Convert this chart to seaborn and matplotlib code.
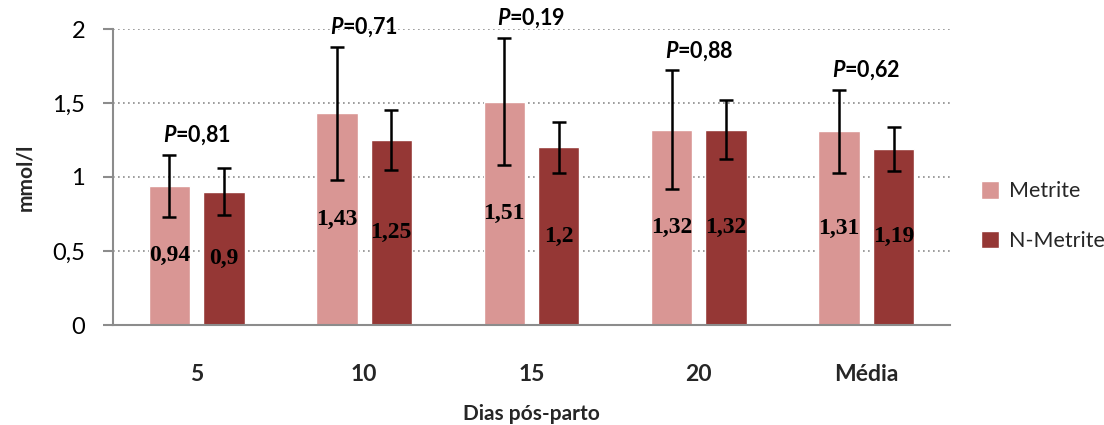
import numpy as np
import pandas as pd
import matplotlib
matplotlib.use("Agg")
import matplotlib.pyplot as plt
from matplotlib.ticker import FuncFormatter
import seaborn as sns

# ---- data ----
dias = ["5", "10", "15", "20", "Média"]
grupos = ["Metrite", "N-Metrite"]
metrite = [0.94, 1.43, 1.51, 1.32, 1.31]
n_metrite = [0.90, 1.25, 1.20, 1.32, 1.19]
err_metrite = [0.21, 0.45, 0.43, 0.40, 0.28]
err_n_metrite = [0.16, 0.20, 0.17, 0.20, 0.15]
p_values = ["0,81", "0,71", "0,19", "0,88", "0,62"]
colors = ["#D99694", "#953735"]

df = pd.DataFrame({
    "dia": dias * 2,
    "grupo": [grupos[0]] * len(dias) + [grupos[1]] * len(dias),
    "valor": metrite + n_metrite,
})

sns.set_theme(style="white")
plt.rcParams["font.family"] = ["Lato", "DejaVu Sans"]
plt.rcParams["mathtext.fontset"] = "custom"
plt.rcParams["mathtext.it"] = "Lato:italic:bold"
plt.rcParams["mathtext.rm"] = "Lato:bold"

fig = plt.figure(figsize=(11.04, 4.25), dpi=100)
ax = fig.add_axes([113 / 1104, 1 - 325 / 425, (950 - 113) / 1104, (325 - 29) / 425])

sns.barplot(data=df, x="dia", y="valor", hue="grupo", palette=colors,
            order=dias, hue_order=grupos, width=0.65, gap=0.24,
            errorbar=None, saturation=1, ax=ax, zorder=2)

val_labels = [metrite, n_metrite]
errs = [err_metrite, err_n_metrite]
for cont, errv, vals in zip(ax.containers, errs, val_labels):
    xs = [b.get_x() + b.get_width() / 2 for b in cont]
    hs = [b.get_height() for b in cont]
    ax.errorbar(xs, hs, yerr=errv, fmt="none", ecolor="black",
                elinewidth=1.8, capsize=5, capthick=1.8, zorder=4)
    ax.bar_label(cont, labels=[f"{v:g}".replace(".", ",") for v in vals],
                 label_type="center", fontfamily="Liberation Serif",
                 fontweight="bold", fontsize=17, color="black", zorder=5)

for i, p in enumerate(p_values):
    top = max(metrite[i] + err_metrite[i], n_metrite[i] + err_n_metrite[i])
    ax.text(i, top + 0.13, r"$P$=" + p, ha="center", va="center",
            fontsize=15.5, fontweight="bold", color="black")

ax.set_ylim(0, 2)
ax.set_xlim(-0.5, len(dias) - 0.5)
ax.set_yticks([0, 0.5, 1, 1.5, 2])
ax.yaxis.set_major_formatter(FuncFormatter(lambda v, _: f"{v:g}".replace(".", ",")))
ax.grid(axis="y", color="#8c8c8c", linestyle=(0, (1, 2)), linewidth=1.2, zorder=0)
ax.set_axisbelow(True)

for s in ["top", "right"]:
    ax.spines[s].set_visible(False)
for s in ["left", "bottom"]:
    ax.spines[s].set_color("#8c8c8c")
    ax.spines[s].set_linewidth(1.5)

ax.tick_params(axis="y", which="both", left=True, length=7, width=1.5,
               color="#8c8c8c", pad=13, labelsize=17, labelcolor="black")
ax.tick_params(axis="x", bottom=False, pad=22, labelsize=16.5)
for lbl in ax.get_xticklabels():
    lbl.set_fontweight("bold")

ax.set_xlabel("Dias pós-parto", fontsize=15, fontweight="bold", labelpad=14)
ax.set_ylabel("mmol/l", fontsize=15, fontweight="bold", labelpad=12)

leg = ax.legend(loc="center left", bbox_to_anchor=(970 / 1104, 1 - 216 / 425),
                bbox_transform=fig.transFigure, frameon=False, fontsize=15.5,
                handlelength=0.85, handleheight=0.85, handletextpad=0.45,
                labelspacing=1.35, borderpad=0, title=None)

fig.savefig("out.png", dpi=100)
